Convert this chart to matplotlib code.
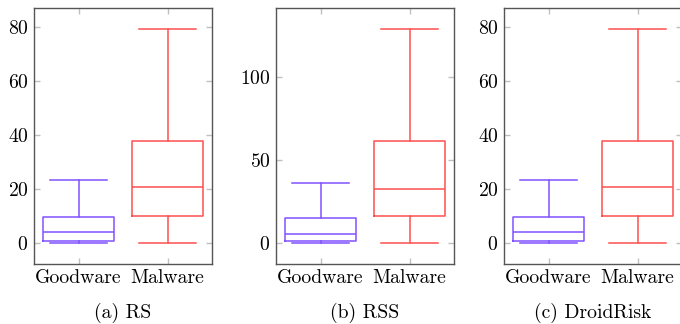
import matplotlib
matplotlib.use("Agg")
import matplotlib.pyplot as plt

plt.rcParams["font.family"] = ["cmr10", "DejaVu Serif"]
plt.rcParams["axes.formatter.use_mathtext"] = True

categories = ["Goodware", "Malware"]
captions = ["(a) RS", "(b) RSS", "(c) DroidRisk"]

# five-number summaries per metric: [whislo, q1, median, q3, whishi]
rs_goodware = [0.0, 0.7, 4.1, 9.7, 23.3]
rs_malware = [0.0, 9.9, 20.6, 37.7, 79.3]
rss_goodware = [0.0, 1.2, 5.3, 14.9, 36.0]
rss_malware = [0.0, 16.1, 32.2, 61.0, 128.4]
droidrisk_goodware = [0.0, 0.7, 4.1, 9.7, 23.3]
droidrisk_malware = [0.0, 9.9, 20.6, 37.7, 79.3]

panels = [
    (rs_goodware, rs_malware, [0, 20, 40, 60, 80]),
    (rss_goodware, rss_malware, [0, 50, 100]),
    (droidrisk_goodware, droidrisk_malware, [0, 20, 40, 60, 80]),
]

colors = ["#8052ff", "#ff5050"]

W, H = 680, 324
fig = plt.figure(figsize=(W / 100, H / 100), dpi=100)
ax_lefts = [34, 276, 504]
ax_w = 178
ax_top, ax_bot = 8, 264


def stats(vals, label):
    lo, q1, med, q3, hi = vals
    return dict(label=label, whislo=lo, q1=q1, med=med, q3=q3, whishi=hi, fliers=[])


for left, (good, mal, yticks), cap in zip(ax_lefts, panels, captions):
    ax = fig.add_axes([left / W, 1 - ax_bot / H, ax_w / W, (ax_bot - ax_top) / H])
    for i, (vals, col) in enumerate(zip([good, mal], colors)):
        ax.bxp([stats(vals, categories[i])], positions=[i + 1], widths=0.8,
               capwidths=0.64, showfliers=False,
               boxprops=dict(color=col, lw=1.1),
               medianprops=dict(color=col, lw=1.1),
               whiskerprops=dict(color=col, lw=1.1),
               capprops=dict(color=col, lw=1.1))
    ymax = max(good[4], mal[4])
    ax.set_xlim(0.5, 2.5)
    ax.set_ylim(-0.1 * ymax, 1.1 * ymax)
    ax.set_xticks([1, 2])
    ax.set_xticklabels(categories)
    ax.set_yticks(yticks)
    ax.tick_params(direction="in", length=4, width=1, color="#c0c0c0",
                   top=True, right=True, labelsize=14.2, pad=4)
    for s in ax.spines.values():
        s.set_color("#555555")
        s.set_linewidth(1.0)
    ax.text(0.5, -(313 - ax_bot) / (ax_bot - ax_top), cap, transform=ax.transAxes,
            ha="center", va="center", fontsize=14.2)

fig.savefig("out.png", dpi=100)
